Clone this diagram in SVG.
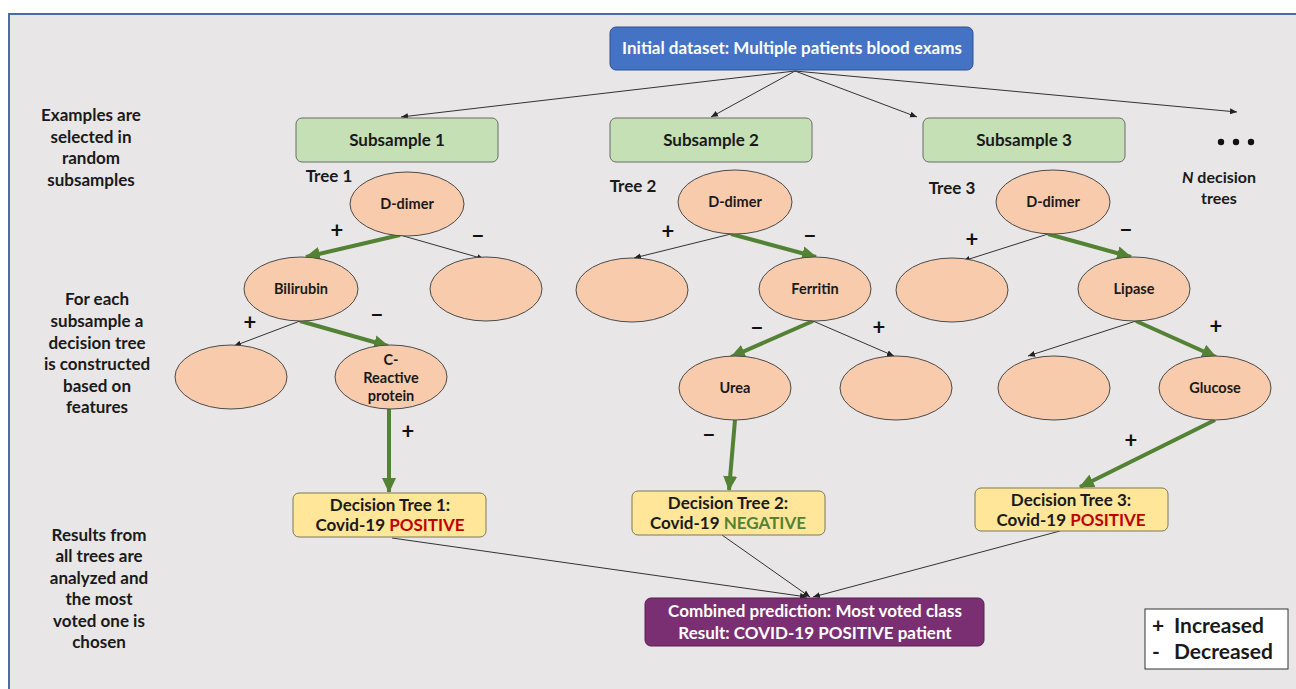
<svg xmlns="http://www.w3.org/2000/svg" width="1296" height="689" viewBox="0 0 1296 689">
<defs>
<marker id="ah" markerWidth="8" markerHeight="8" refX="7" refY="4" orient="auto" markerUnits="userSpaceOnUse"><path d="M0,1 L7,4 L0,7 z" fill="#222"/></marker>
<marker id="gh" markerWidth="16" markerHeight="16" refX="14" refY="8" orient="auto" markerUnits="userSpaceOnUse"><path d="M0,1 L15,8 L0,15 z" fill="#548235"/></marker>
<style>
.t{font-family:Lato,"Liberation Sans",sans-serif;font-weight:bold;fill:#1a1a1a;text-anchor:middle}
.side{font-size:17px}
.node{font-size:14.5px}
.box{font-size:17px}
.el{fill:#f8cbad;stroke:#4a4a4a;stroke-width:1}
.sub{fill:#c5e0b4;stroke:#6b6b6b;stroke-width:1}
.dt{fill:#ffe699;stroke:#7a7a5a;stroke-width:1}
.thin{stroke:#333;stroke-width:1;fill:none;marker-end:url(#ah)}
.green{stroke:#548235;stroke-width:4;fill:none;marker-end:url(#gh)}
.pm{font-family:Lato,"Liberation Sans",sans-serif;font-weight:bold;font-size:22px;fill:#111;text-anchor:middle}
</style>
</defs>
<rect x="0" y="0" width="1296" height="689" fill="#ffffff"/>
<rect x="9" y="14" width="1300" height="690" fill="#e8e6e6" stroke="#4a6aa8" stroke-width="2"/>

<g id="side-labels">
<text class="t side" x="91" y="121">Examples are</text>
<text class="t side" x="91" y="143">selected in</text>
<text class="t side" x="91" y="164">random</text>
<text class="t side" x="91" y="186">subsamples</text>
<text class="t side" x="97" y="305">For each</text>
<text class="t side" x="97" y="327">subsample a</text>
<text class="t side" x="97" y="349">decision tree</text>
<text class="t side" x="97" y="370">is constructed</text>
<text class="t side" x="97" y="392">based on</text>
<text class="t side" x="97" y="413">features</text>
<text class="t side" x="99" y="541">Results from</text>
<text class="t side" x="99" y="562">all trees are</text>
<text class="t side" x="99" y="584">analyzed and</text>
<text class="t side" x="99" y="605">the most</text>
<text class="t side" x="99" y="627">voted one is</text>
<text class="t side" x="99" y="648">chosen</text>
</g>

<g id="connectors">
<line class="thin" x1="795" y1="71" x2="401" y2="117"/>
<line class="thin" x1="795" y1="71" x2="711" y2="117"/>
<line class="thin" x1="795" y1="71" x2="917" y2="117"/>
<line class="thin" x1="795" y1="71" x2="1237" y2="112"/>
<line class="green" x1="400" y1="235" x2="306" y2="257"/>
<line class="thin" x1="400" y1="235" x2="484" y2="259"/>
<line class="green" x1="300" y1="321" x2="388" y2="346"/>
<line class="thin" x1="300" y1="321" x2="234" y2="346"/>
<line class="green" x1="389" y1="409" x2="389" y2="492"/>
<line class="green" x1="731" y1="234" x2="816" y2="257"/>
<line class="thin" x1="731" y1="234" x2="634" y2="258"/>
<line class="green" x1="813" y1="321" x2="731" y2="357"/>
<line class="thin" x1="813" y1="321" x2="894" y2="356"/>
<line class="green" x1="735" y1="420" x2="729" y2="490"/>
<line class="green" x1="1048" y1="234" x2="1131" y2="257"/>
<line class="thin" x1="1048" y1="234" x2="963" y2="261"/>
<line class="green" x1="1136" y1="321" x2="1216" y2="357"/>
<line class="thin" x1="1136" y1="321" x2="1028" y2="356"/>
<line class="green" x1="1215" y1="420" x2="1080" y2="487"/>
<line class="thin" x1="392" y1="538" x2="807" y2="597"/>
<line class="thin" x1="722" y1="535" x2="810" y2="597"/>
<line class="thin" x1="1060" y1="531" x2="813" y2="597"/>
</g>

<g id="signs">
<text class="pm" x="337" y="238">+</text>
<text class="pm" x="478" y="244">−</text>
<text class="pm" x="250" y="330">+</text>
<text class="pm" x="377" y="323">−</text>
<text class="pm" x="408" y="439">+</text>
<text class="pm" x="668" y="239">+</text>
<text class="pm" x="810" y="244">−</text>
<text class="pm" x="757" y="336">−</text>
<text class="pm" x="879" y="335">+</text>
<text class="pm" x="709" y="443">−</text>
<text class="pm" x="972" y="247">+</text>
<text class="pm" x="1126" y="238">−</text>
<text class="pm" x="1216" y="334">+</text>
<text class="pm" x="1131" y="448">+</text>
</g>

<g id="initial">
<rect x="610" y="27" width="363" height="43" rx="6" fill="#4472c4" stroke="#2f528f" stroke-width="1"/>
<text class="t" x="792" y="54" style="fill:#fff;font-size:17px">Initial dataset: Multiple patients blood exams</text>
</g>
<g id="subsample1"><rect class="sub" x="296" y="118" width="202" height="44" rx="6"/><text class="t box" x="397" y="146">Subsample 1</text></g>
<g id="subsample2"><rect class="sub" x="610" y="118" width="202" height="44" rx="6"/><text class="t box" x="711" y="146">Subsample 2</text></g>
<g id="subsample3"><rect class="sub" x="923" y="118" width="202" height="44" rx="6"/><text class="t box" x="1024" y="146">Subsample 3</text></g>
<g id="more">
<circle cx="1221" cy="142" r="3.2" fill="#111"/>
<circle cx="1236" cy="142" r="3.2" fill="#111"/>
<circle cx="1251" cy="142" r="3.2" fill="#111"/>
<text class="t" x="1219" y="183" style="font-size:16px"><tspan font-style="italic">N</tspan> decision</text>
<text class="t" x="1219" y="204" style="font-size:16px">trees</text>
</g>
<g id="tree-labels">
<text class="t" x="329" y="182" style="font-size:17px">Tree 1</text>
<text class="t" x="633" y="192" style="font-size:17px">Tree 2</text>
<text class="t" x="952" y="194" style="font-size:17px">Tree 3</text>
</g>

<g id="ddimer1"><ellipse class="el" cx="407" cy="204" rx="57" ry="32"/><text class="t node" x="407" y="209">D-dimer</text></g>
<g id="ddimer2"><ellipse class="el" cx="735" cy="202" rx="57" ry="32"/><text class="t node" x="735" y="207">D-dimer</text></g>
<g id="ddimer3"><ellipse class="el" cx="1053" cy="202" rx="57" ry="32"/><text class="t node" x="1053" y="207">D-dimer</text></g>
<g id="bilirubin"><ellipse class="el" cx="301" cy="289" rx="57" ry="32"/><text class="t node" x="301" y="294">Bilirubin</text></g>
<g id="empty1"><ellipse class="el" cx="486" cy="289" rx="56" ry="32"/></g>
<g id="empty2"><ellipse class="el" cx="632" cy="290" rx="56" ry="32"/></g>
<g id="ferritin"><ellipse class="el" cx="815" cy="289" rx="56" ry="32"/><text class="t node" x="815" y="294">Ferritin</text></g>
<g id="empty3"><ellipse class="el" cx="952" cy="290" rx="56" ry="32"/></g>
<g id="lipase"><ellipse class="el" cx="1134" cy="289" rx="56" ry="32"/><text class="t node" x="1134" y="294">Lipase</text></g>
<g id="empty4"><ellipse class="el" cx="231" cy="377" rx="56" ry="32"/></g>
<g id="creactive"><ellipse class="el" cx="391" cy="377" rx="56" ry="32"/><text class="t node" x="391" y="365">C-</text><text class="t node" x="391" y="383">Reactive</text><text class="t node" x="391" y="401">protein</text></g>
<g id="urea"><ellipse class="el" cx="735" cy="388" rx="56" ry="32"/><text class="t node" x="735" y="393">Urea</text></g>
<g id="empty5"><ellipse class="el" cx="896" cy="388" rx="56" ry="32"/></g>
<g id="empty6"><ellipse class="el" cx="1054" cy="388" rx="56" ry="32"/></g>
<g id="glucose"><ellipse class="el" cx="1215" cy="388" rx="56" ry="32"/><text class="t node" x="1215" y="393">Glucose</text></g>

<g id="dt1"><rect class="dt" x="293" y="493" width="193" height="44" rx="6"/><text class="t box" x="390" y="511">Decision Tree 1:</text><text class="t box" x="390" y="531">Covid-19 <tspan fill="#c00000">POSITIVE</tspan></text></g>
<g id="dt2"><rect class="dt" x="632" y="491" width="193" height="44" rx="6"/><text class="t box" x="728" y="509">Decision Tree 2:</text><text class="t box" x="728" y="529">Covid-19 <tspan fill="#548235">NEGATIVE</tspan></text></g>
<g id="dt3"><rect class="dt" x="975" y="488" width="193" height="43" rx="6"/><text class="t box" x="1071" y="506">Decision Tree 3:</text><text class="t box" x="1071" y="526">Covid-19 <tspan fill="#c00000">POSITIVE</tspan></text></g>

<g id="combined">
<rect x="645" y="598" width="339" height="48" rx="6" fill="#7b2f73" stroke="#5a2055" stroke-width="1"/>
<text class="t box" x="815" y="617" style="fill:#fff">Combined prediction: Most voted class</text>
<text class="t box" x="815" y="639" style="fill:#fff">Result: COVID-19 POSITIVE patient</text>
</g>
<g id="legend">
<rect x="1145" y="609" width="143" height="60" fill="#fff" stroke="#333" stroke-width="1"/>
<text class="t" x="1158" y="633" style="font-size:21px">+</text>
<text class="t" x="1174" y="633" style="font-size:21px;text-anchor:start">Increased</text>
<text class="t" x="1156" y="659" style="font-size:21px">-</text>
<text class="t" x="1174" y="659" style="font-size:21px;text-anchor:start">Decreased</text>
</g>
</svg>
